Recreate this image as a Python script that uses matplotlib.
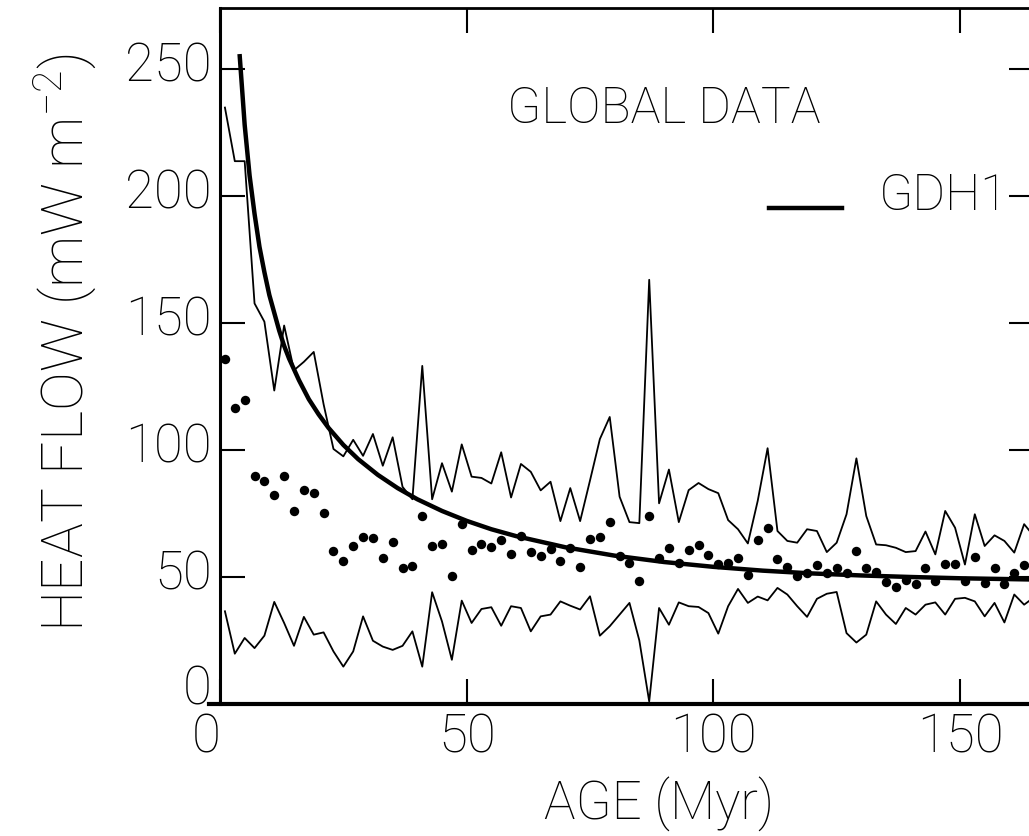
import matplotlib
matplotlib.use("Agg")
import matplotlib.pyplot as plt
from matplotlib.legend_handler import HandlerLine2D
from matplotlib.transforms import ScaledTranslation

# thin sans-serif like the original plotter lettering
plt.rcParams['font.family'] = ['Roboto', 'DejaVu Sans']
plt.rcParams['font.weight'] = 'light'
plt.rcParams['axes.labelweight'] = 'light'
plt.rcParams['mathtext.default'] = 'regular'

# binned global heat-flow data (2 Myr bins)
ages = list(range(1, 165, 2))
mean_flow = [136, 116.5, 119.5, 89.8, 87.7, 82.3, 89.8, 75.8, 84.2, 83.0,
             75.1, 60.1, 56.2, 62.2, 65.7, 65.3, 57.3, 63.9, 53.5, 54.2,
             73.9, 62.2, 63.1, 50.3, 71.0, 60.5, 62.8, 61.8, 64.4, 59.2,
             66.1, 59.8, 58.2, 60.9, 56.2, 61.3, 54.0, 64.8, 65.6, 71.7,
             58.2, 55.6, 48.6, 74.2, 57.6, 61.5, 55.6, 60.5, 62.5, 58.5,
             55.3, 55.6, 57.3, 50.7, 64.4, 69.2, 56.9, 54.0, 50.3, 51.4,
             54.7, 51.4, 53.6, 51.4, 60.2, 53.4, 52.1, 47.9, 46.1, 49.0,
             47.3, 53.5, 48.4, 55.3, 55.3, 48.6, 57.8, 47.7, 53.4, 47.3,
             51.4, 54.9]

line_ages = list(range(1, 167, 2))
upper_flow = [234.8, 213.7, 213.7, 157.7, 150.5, 123.4, 149, 131.4, 134.7, 138.6,
              118, 100.4, 97.5, 104, 97.7, 106.3, 93.8, 105, 85.5, 80.6,
              133.1, 80.6, 94.8, 83.6, 102.2, 89.5, 89, 86.8, 99.1, 81.3,
              94.5, 91.4, 84.1, 87.5, 72, 85, 72, 88, 104.3, 113,
              81.6, 71.6, 71.2, 167, 79, 92.3, 71.6, 84.2, 87, 84.6,
              83, 72.4, 68.8, 63.2, 80, 100.7, 68.1, 64.2, 63.5, 68.8,
              68.1, 59.8, 63.5, 74.7, 96.7, 74, 62.8, 62.5, 61.5, 59.8,
              60.2, 67.9, 58.9, 76, 69.4, 54.9, 74.7, 62.2, 66.4, 64.2,
              59.6, 70.8, 66]
lower_flow = [36.5, 19.8, 26, 22, 26.9, 40.2, 31.9, 22.9, 34.3, 27.3,
              28.2, 20.7, 14.7, 20.7, 34.5, 24.9, 22.6, 21.3, 22.9, 28.6,
              14.7, 44, 32.5, 17.4, 40.7, 31.9, 37.4, 38.1, 30.8, 38.5,
              37.8, 28.6, 34.5, 35.2, 40.4, 38.7, 37.2, 42.4, 26.9, 30.6,
              35.2, 39.8, 25, 1, 37.8, 31.2, 40, 38.5, 38.2, 35.8,
              27.7, 38.5, 45.3, 39.8, 42.3, 40.8, 45.7, 43.1, 38.5, 34.3,
              41.4, 43.4, 44.1, 27.9, 24.2, 27.3, 40.4, 35.2, 31.5, 37.8,
              35.2, 39.1, 40, 35.2, 41.4, 41.8, 40.4, 34.5, 39.8, 32.1,
              43.1, 39.1, 42]

# GDH1 model curve, read at these ages
gdh1_ages = [4, 5, 6, 7, 8, 9, 10, 11, 12, 13, 14, 16, 18, 20, 22, 25, 28, 32,
             36, 40, 45, 50, 55, 60, 70, 80, 90, 100, 110, 120, 130, 140, 150, 165]
gdh1_flow = [255, 228, 208, 193, 180, 170, 161, 154, 147, 141, 136, 127.5, 120,
             114, 108.7, 102, 96.4, 90.2, 85, 80.6, 76, 72.1, 68.8, 66.1, 61.7,
             58.4, 55.9, 54, 52.5, 51.4, 50.6, 50, 49.5, 49]


class LowLine(HandlerLine2D):
    # legend key sits a bit below the middle of the text, as in the original
    def create_artists(self, legend, orig_handle, xdescent, ydescent,
                       width, height, fontsize, trans):
        return super().create_artists(legend, orig_handle, xdescent,
                                      ydescent + 22, width, height,
                                      fontsize, trans)


fig = plt.figure(figsize=(10.29, 8.36), dpi=100)
ax = fig.add_axes([220 / 1029, 132 / 836, 814 / 1029, 696 / 836])

ax.plot(line_ages, upper_flow, color='black', lw=1.3)
ax.plot(line_ages, lower_flow, color='black', lw=1.3)
ax.plot(ages, mean_flow, 'o', color='black', ms=6.8, mec='none')
gdh1, = ax.plot(gdh1_ages, gdh1_flow, color='black', lw=3.2, label='GDH1')

ax.set_xlim(0, 165)
ax.set_ylim(0, 274)
ax.set_xticks([0, 50, 100, 150])
ax.set_yticks([0, 50, 100, 150, 200, 250])
ax.tick_params(direction='in', length=18, width=1.5, top=True, right=True,
               labelsize=38, pad=6)

# nudge tick labels the way the original lettering sits
for i, lab in enumerate(ax.get_yticklabels()):
    dy = 20 if i == 0 else 8
    lab.set_transform(lab.get_transform()
                      + ScaledTranslation(0, dy / 100, fig.dpi_scale_trans))
x0 = ax.get_xticklabels()[0]
x0.set_transform(x0.get_transform()
                 + ScaledTranslation(-14 / 100, 0, fig.dpi_scale_trans))

ax.spines['left'].set_linewidth(2.2)
ax.spines['bottom'].set_linewidth(3)
ax.spines['bottom'].set_bounds(-2.2, 165)
for s in ['top', 'right']:
    ax.spines[s].set_linewidth(2)

ax.set_xlabel('AGE (Myr)', fontsize=38)
ax.set_ylabel('HEAT FLOW (mW m$^{-2}$)', fontsize=42)
ax.xaxis.set_label_coords(0.54, -0.105)
ax.yaxis.set_label_coords(-0.15, 0.52)

ax.text(0.545, 0.855, 'GLOBAL DATA', transform=ax.transAxes, fontsize=36,
        ha='center', va='center')
ax.legend(handles=[gdh1], loc='center left', bbox_to_anchor=(549 / 814, 0.729),
          frameon=False, handlelength=1.45, handletextpad=0.75, borderpad=0,
          borderaxespad=0, fontsize=36, handler_map={gdh1: LowLine()})

fig.savefig('out.png', dpi=100)
